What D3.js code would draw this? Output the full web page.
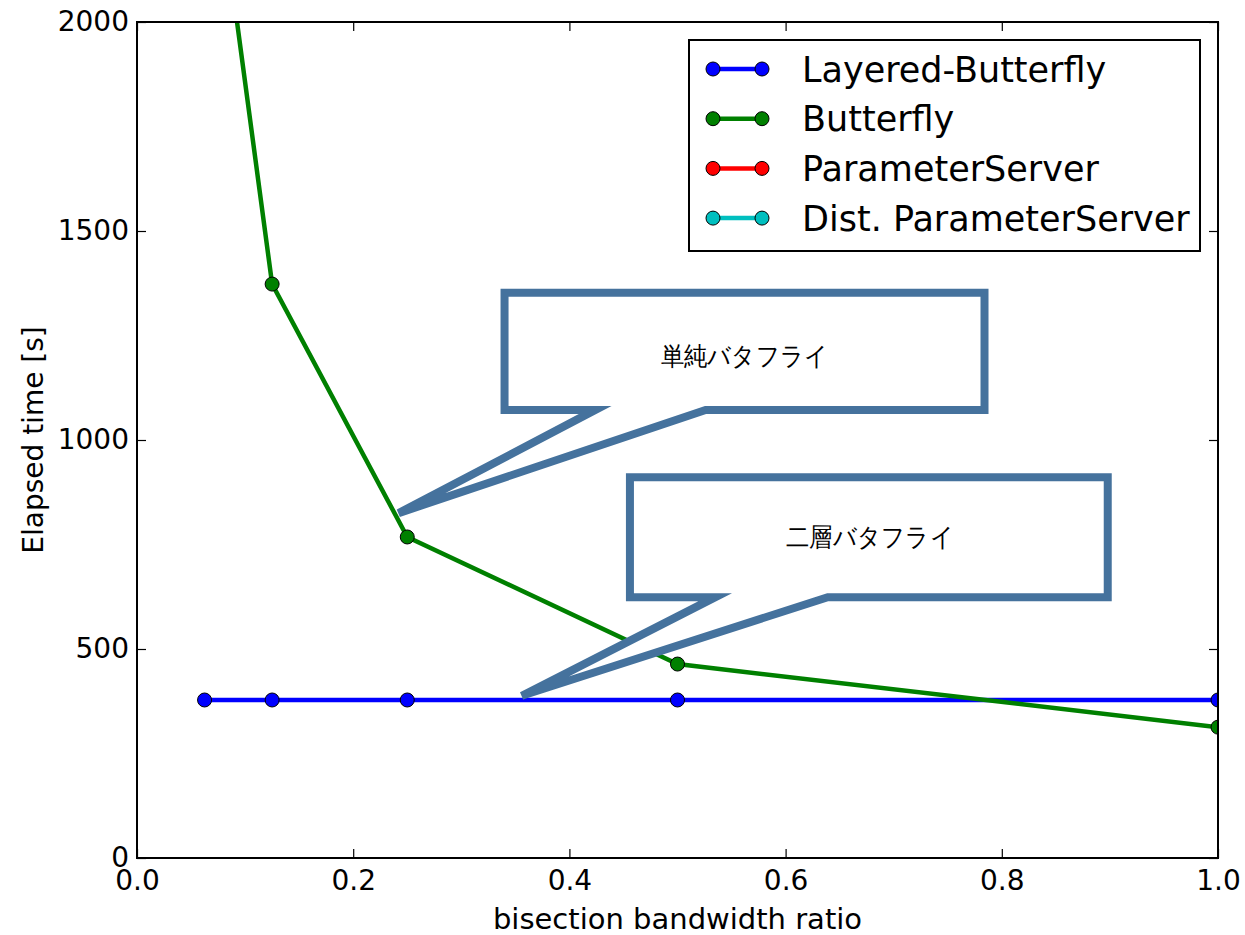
<!DOCTYPE html>
<html>
<head>
<meta charset="utf-8">
<script src="https://cdn.jsdelivr.net/npm/d3@7"></script>
<style>
  body { margin: 0; background: #fff; }
  text { font-family: "DejaVu Sans", sans-serif; }
</style>
</head>
<body>
<svg id="chart" width="1245" height="935"></svg>
<script>
// Data
const ratios = [0.0625, 0.125, 0.25, 0.5, 1.0];
const layeredButterfly = [378, 378, 378, 378, 378];
const butterfly = [2580, 1373, 768, 464, 313];
const parameterServer = [];
const distParameterServer = [];

const seriesNames = ["Layered-Butterfly", "Butterfly", "ParameterServer", "Dist. ParameterServer"];
const seriesColors = ["#0000ff", "#008000", "#ff0000", "#00bfbf"];
const seriesValues = [layeredButterfly, butterfly, parameterServer, distParameterServer];

const xTicks = [0.0, 0.2, 0.4, 0.6, 0.8, 1.0];
const yTicks = [0, 500, 1000, 1500, 2000];

// Callouts (data coordinates)
const calloutLabels = ["単純バタフライ", "二層バタフライ"];
const calloutRects = [[0.340, 1352, 0.784, 1072], [0.456, 911, 0.898, 624]];
const calloutPointers = [[0.424, 0.526, 0.242, 825], [0.535, 0.639, 0.356, 388]];
const calloutText = [[0.562, 1203], [0.678, 768]];

const svg = d3.select("#chart"),
      width = +svg.attr("width"),
      height = +svg.attr("height"),
      margin = { top: 22, right: 27, bottom: 77, left: 137 };

const x = d3.scaleLinear().domain([0, 1]).range([margin.left, width - margin.right]);
const y = d3.scaleLinear().domain([0, 2000]).range([height - margin.bottom, margin.top]);

svg.append("clipPath").attr("id", "plotClip")
  .append("rect")
  .attr("x", x(0)).attr("y", y(2000))
  .attr("width", x(1) - x(0)).attr("height", y(0) - y(2000));

// Ticks, inward on all four sides
const tickLen = 9;
const fmt = d3.format(".1f");
svg.append("g").attr("transform", `translate(0,${y(0)})`)
  .call(d3.axisBottom(x).tickValues(xTicks).tickSizeInner(-tickLen).tickSizeOuter(0).tickPadding(12).tickFormat(fmt))
  .call(g => g.select(".domain").remove())
  .call(g => g.selectAll("text").attr("font-size", 28).attr("font-family", "DejaVu Sans").attr("fill", "#000"));
svg.append("g").attr("transform", `translate(0,${y(2000)})`)
  .call(d3.axisTop(x).tickValues(xTicks).tickSizeInner(-tickLen).tickSizeOuter(0).tickFormat(""))
  .call(g => g.select(".domain").remove());
svg.append("g").attr("transform", `translate(${x(0)},0)`)
  .call(d3.axisLeft(y).tickValues(yTicks).tickSizeInner(-tickLen).tickSizeOuter(0).tickPadding(8).tickFormat(d3.format("d")))
  .call(g => g.select(".domain").remove())
  .call(g => g.selectAll("text").attr("font-size", 28).attr("font-family", "DejaVu Sans").attr("fill", "#000"));
svg.append("g").attr("transform", `translate(${x(1)},0)`)
  .call(d3.axisRight(y).tickValues(yTicks).tickSizeInner(-tickLen).tickSizeOuter(0).tickFormat(""))
  .call(g => g.select(".domain").remove());
svg.selectAll(".tick line").attr("stroke", "#000").attr("stroke-width", 1.2);

// Series lines and markers
const plot = svg.append("g").attr("clip-path", "url(#plotClip)");
const line = d3.line().x(d => x(d[0])).y(d => y(d[1]));
seriesValues.forEach((vals, i) => {
  const pts = vals.map((v, j) => [ratios[j], v]);
  if (!pts.length) return;
  plot.append("path").datum(pts)
    .attr("fill", "none").attr("stroke", seriesColors[i]).attr("stroke-width", 4.5)
    .attr("d", line);
  plot.selectAll(null).data(pts).enter().append("circle")
    .attr("cx", d => x(d[0])).attr("cy", d => y(d[1])).attr("r", 7)
    .attr("fill", seriesColors[i]).attr("stroke", "#000").attr("stroke-width", 1);
});

// Frame
svg.append("rect")
  .attr("x", x(0)).attr("y", y(2000))
  .attr("width", x(1) - x(0)).attr("height", y(0) - y(2000))
  .attr("fill", "none").attr("stroke", "#000").attr("stroke-width", 2);

// Callouts
calloutRects.forEach((r, i) => {
  const p = calloutPointers[i];
  const pts = [
    [x(r[0]), y(r[1])], [x(r[2]), y(r[1])], [x(r[2]), y(r[3])],
    [x(p[1]), y(r[3])], [x(p[2]), y(p[3])], [x(p[0]), y(r[3])],
    [x(r[0]), y(r[3])]
  ];
  svg.append("polygon")
    .attr("points", pts.map(d => d.join(",")).join(" "))
    .attr("fill", "#fff").attr("stroke", "#45729d").attr("stroke-width", 8)
    .attr("stroke-linejoin", "miter").attr("stroke-miterlimit", 5);
  svg.append("text")
    .attr("x", x(calloutText[i][0])).attr("y", y(calloutText[i][1]))
    .attr("text-anchor", "middle").attr("dy", "0.36em")
    .attr("font-family", "Noto Sans CJK JP").attr("font-size", 26)
    .attr("textLength", 168).attr("lengthAdjust", "spacingAndGlyphs")
    .text(calloutLabels[i]);
});

// Axis labels
svg.append("text")
  .attr("x", (x(0) + x(1)) / 2).attr("y", 929)
  .attr("text-anchor", "middle").attr("font-size", 29)
  .text("bisection bandwidth ratio");
svg.append("text")
  .attr("transform", `translate(43,${(y(0) + y(2000)) / 2}) rotate(-90)`)
  .attr("text-anchor", "middle").attr("font-size", 28)
  .text("Elapsed time [s]");

// Legend
const legend = svg.append("g");
legend.append("rect")
  .attr("x", 689).attr("y", 40).attr("width", 511).attr("height", 211)
  .attr("fill", "#fff").attr("stroke", "#000").attr("stroke-width", 2);
seriesNames.forEach((name, i) => {
  const ly = 69 + i * 49.7;
  legend.append("line")
    .attr("x1", 713).attr("x2", 762).attr("y1", ly).attr("y2", ly)
    .attr("stroke", seriesColors[i]).attr("stroke-width", 4.5);
  [713, 762].forEach(cx => legend.append("circle")
    .attr("cx", cx).attr("cy", ly).attr("r", 7)
    .attr("fill", seriesColors[i]).attr("stroke", "#000").attr("stroke-width", 1));
  legend.append("text")
    .attr("x", 802).attr("y", ly).attr("dy", "0.36em")
    .attr("font-size", 35)
    .text(name);
});
</script>
</body>
</html>
